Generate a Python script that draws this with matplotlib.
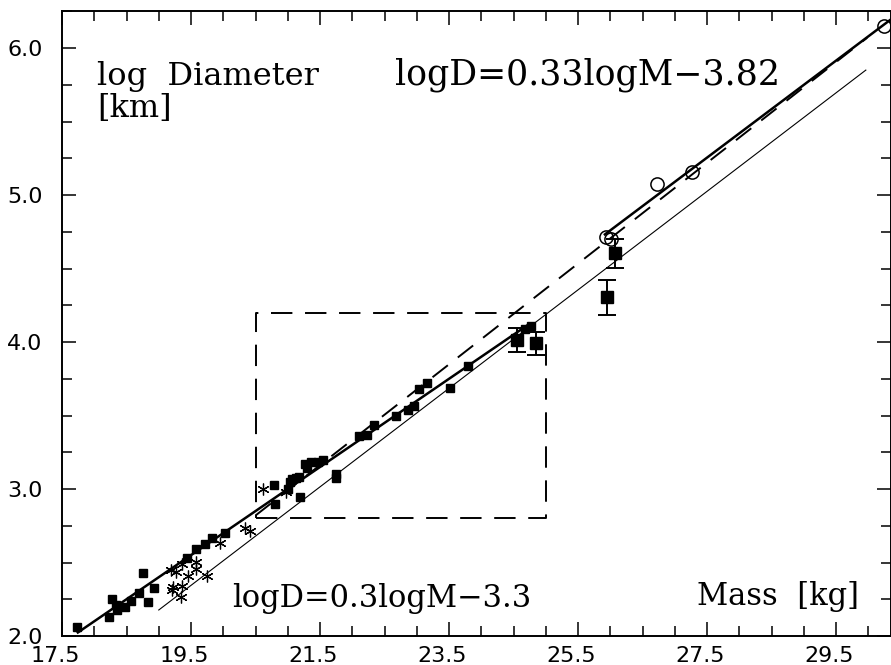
import matplotlib
matplotlib.use("Agg")
import matplotlib.pyplot as plt
import matplotlib.transforms as mtransforms
from matplotlib.ticker import MultipleLocator, FormatStrFormatter

# data (log mass [kg], log diameter [km])
sq_x = [17.73, 18.23, 18.28, 18.34, 18.36, 18.48, 18.57, 18.70, 18.76, 18.83,
        18.93, 19.43, 19.57, 19.71, 19.82, 20.03, 20.78, 20.80, 21.00, 21.03,
        21.07, 21.12, 21.18, 21.19, 21.26, 21.29, 21.36, 21.47, 21.55, 21.75,
        21.75, 22.11, 22.22, 22.33, 22.68, 22.86, 22.95, 23.03, 23.16, 23.52,
        23.79, 24.68, 24.77]
sq_y = [2.063, 2.127, 2.25, 2.21, 2.177, 2.20, 2.24, 2.29, 2.43, 2.23,
        2.327, 2.53, 2.594, 2.626, 2.67, 2.70, 3.027, 2.896, 2.998, 3.05,
        3.066, 3.073, 3.084, 2.948, 3.17, 3.145, 3.186, 3.186, 3.20, 3.10,
        3.077, 3.36, 3.367, 3.435, 3.497, 3.54, 3.565, 3.68, 3.723, 3.69,
        3.837, 4.087, 4.109]

# points with error bars
err_x = [24.55, 24.85, 25.95, 26.07]
err_y = [4.014, 3.99, 4.304, 4.603]
err_dy = [0.08, 0.08, 0.12, 0.10]

ast_x = [19.19, 19.26, 19.36, 19.58, 19.57, 19.46, 19.22, 19.21, 19.36, 19.35,
         19.75, 19.95, 20.33, 20.42, 20.62, 20.97]
ast_y = [2.449, 2.433, 2.49, 2.505, 2.454, 2.408, 2.335, 2.313, 2.34, 2.267,
         2.408, 2.635, 2.733, 2.716, 2.998, 2.98]

circ_x = [25.93, 26.01, 26.73, 27.26, 30.24]
circ_y = [4.716, 4.70, 5.075, 5.154, 6.15]

# fitted lines (endpoints)
fit_low_x = [17.73, 24.75]      # logD = 0.3 logM - 3.3
fit_low_y = [0.3 * v - 3.3 for v in fit_low_x]
fit_high_x = [25.9, 30.35]      # logD = 0.33 logM - 3.82
fit_high_y = [0.33 * v - 3.82 for v in fit_high_x]
thin_x = [19.0, 29.96]
thin_y = [2.177, 5.85]
dash_x = [20.5, 29.98]
dash_y = [2.82, 6.07]

box_x = [20.5, 25.0, 25.0, 20.5, 20.5]
box_y = [2.8, 2.8, 4.2, 4.2, 2.8]

fig = plt.figure(figsize=(8.91, 6.65), dpi=100)
ax = fig.add_axes([62 / 891, 29 / 665, 829 / 891, 625 / 665])

ax.plot(fit_low_x, fit_low_y, color="black", lw=1.8, solid_capstyle="butt")
ax.plot(fit_high_x, fit_high_y, color="black", lw=1.8, solid_capstyle="butt")
ax.plot(thin_x, thin_y, color="black", lw=0.8)
ax.plot(dash_x, dash_y, color="black", lw=1.4, linestyle=(0, (10, 6.5)))
ax.plot(box_x, box_y, color="black", lw=1.4, linestyle=(0, (11, 6.5)))

ax.plot(sq_x, sq_y, linestyle="none", marker="s", color="black", markersize=5.6)
ax.errorbar(err_x, err_y, yerr=err_dy, fmt="s", color="black", markersize=8,
            capsize=6.5, elinewidth=1.4, capthick=1.4)
ax.plot(ast_x, ast_y, linestyle="none", marker=(6, 2, 0), color="black",
        markersize=8.5, markeredgewidth=0.9)
ax.plot(circ_x, circ_y, linestyle="none", marker="o", markerfacecolor="none",
        markeredgecolor="black", markersize=9.5, markeredgewidth=1.1, clip_on=True)

ax.set_xlim(17.5, 30.35)
ax.set_ylim(2.0, 6.252)

ax.xaxis.set_major_locator(MultipleLocator(2.0))
ax.xaxis.set_minor_locator(MultipleLocator(0.5))
ax.yaxis.set_major_locator(MultipleLocator(1.0))
ax.yaxis.set_minor_locator(MultipleLocator(0.25))
ax.xaxis.set_major_formatter(FormatStrFormatter("%.1f"))
ax.yaxis.set_major_formatter(FormatStrFormatter("%.1f"))
ax.set_xticks([17.5, 19.5, 21.5, 23.5, 25.5, 27.5, 29.5])

ax.tick_params(which="both", direction="in", top=True, right=True, width=1.1,
               labelsize=16)
ax.tick_params(which="major", length=10, pad=7)
ax.tick_params(which="minor", length=7)
ax.tick_params(axis="y", which="major", pad=14)
for s in ax.spines.values():
    s.set_linewidth(1.4)

for lab in ax.get_xticklabels():
    lab.set_fontfamily("DejaVu Sans")
for lab in ax.get_yticklabels():
    lab.set_fontfamily("DejaVu Sans")

# x tick labels sit a little left of their ticks in the original
shift = mtransforms.ScaledTranslation(-0.07, 0, fig.dpi_scale_trans)
for lab in ax.get_xticklabels():
    lab.set_transform(lab.get_transform() + shift)

serif = dict(family="DejaVu Serif", color="black", va="baseline")
ax.text(18.04, 5.75, "log  Diameter", fontsize=23, **serif)
ax.text(18.04, 5.53, "[km]", fontsize=23, **serif)
ax.text(22.66, 5.75, "logD=0.33logM\u22123.82", fontsize=25, **serif)
ax.text(20.14, 2.20, "logD=0.3logM\u22123.3", fontsize=22, **serif)
ax.text(27.35, 2.21, "Mass  [kg]", fontsize=22, **serif)

fig.savefig("out.png", dpi=100)
